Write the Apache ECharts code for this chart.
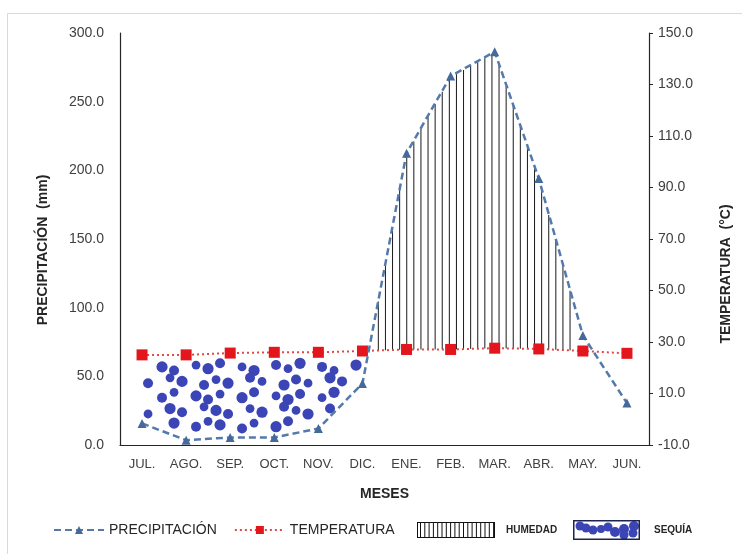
<!DOCTYPE html>
<html><head><meta charset="utf-8">
<script src="https://cdn.jsdelivr.net/npm/echarts@6/dist/echarts.min.js"></script>
<style>html,body{margin:0;padding:0;background:#fff}#c{width:742px;height:554px}</style>
</head><body><div id="c"></div>
<script>
// ---- data ----
const months = ['JUL.','AGO.','SEP.','OCT.','NOV.','DIC.','ENE.','FEB.','MAR.','ABR.','MAY.','JUN.'];
const precipitation = [15.7, 3.5, 5.5, 5.5, 12, 44.8, 212.5, 268.6, 286.4, 194, 79.8, 30.5];
const temperature = [25.0, 25.0, 25.7, 26.0, 26.0, 26.5, 27.1, 27.1, 27.6, 27.3, 26.5, 25.6];
const precipAxis = {min: 0, max: 300, interval: 50};
const tempAxis = {min: -10, max: 150, interval: 20};

const FONT = '"Liberation Sans", Arial, sans-serif';
const PCOL = '#5479ab';
const TCOL = '#e3161d';
const DOT = '#3b45b6';

function toLeft(t){
  return (t - tempAxis.min) / (tempAxis.max - tempAxis.min) * (precipAxis.max - precipAxis.min) + precipAxis.min;
}
function yAt(pts, x){
  for (let i = 0; i < pts.length - 1; i++){
    const a = pts[i], b = pts[i+1];
    if (x >= a[0] && x <= b[0]){
      const t = (x - a[0]) / (b[0] - a[0]);
      return a[1] + t * (b[1] - a[1]);
    }
  }
  return null;
}

function hatchIcon(){
  const c = document.createElement('canvas'); c.width = 78; c.height = 16;
  const g = c.getContext('2d');
  g.fillStyle = '#fff'; g.fillRect(0,0,78,16);
  g.strokeStyle = '#111'; g.lineWidth = 1;
  g.strokeRect(0.5,0.5,77,15);
  for (let x = 3.5; x < 77; x += 4.3){ g.beginPath(); g.moveTo(x,1); g.lineTo(x,15); g.stroke(); }
  return 'image://' + c.toDataURL();
}
function dotIcon(){
  const c = document.createElement('canvas'); c.width = 67; c.height = 20;
  const g = c.getContext('2d');
  g.fillStyle = '#fff'; g.fillRect(0,0,67,20);
  g.fillStyle = DOT;
  const blobs = [[7,6,4.5],[13,8,4.5],[20,10,4.5],[28,9,4],[35,7,4.5],[42,12,5],[51,9,5],[51,15,4.5],[61,6,5],[60,13,4.5]];
  blobs.forEach(b => { g.beginPath(); g.arc(b[0], b[1], b[2], 0, Math.PI*2); g.fill(); });
  g.strokeStyle = '#1c2450'; g.lineWidth = 1.5;
  g.strokeRect(0.75,0.75,65.5,18.5);
  return 'image://' + c.toDataURL();
}

function renderHumedad(params, api){
  if (params.dataIndex !== 0) return null;
  const P = precipitation.map((v,i) => api.coord([i, v]));
  const T = temperature.map((v,i) => api.coord([i, toLeft(v)]));
  const children = [];
  for (let x = P[0][0] + 2; x <= P[P.length-1][0]; x += 7.1){
    const yp = yAt(P, x), yt = yAt(T, x);
    if (yp === null || yt === null) continue;
    if (yt - yp >= 45){
      children.push({type:'line', shape:{x1:x, y1:yt, x2:x, y2:yp + 1}, style:{stroke:'#1a1a1a', lineWidth:1}});
    }
  }
  return {type:'group', children};
}

function renderSequia(params, api){
  if (params.dataIndex !== 0) return null;
  const P = precipitation.map((v,i) => api.coord([i, v]));
  const T = temperature.map((v,i) => api.coord([i, toLeft(v)]));
  const bottom = api.coord([0, precipAxis.min])[1];
  const children = [];
  const y0 = T[0][1] + 12;
  for (let r = 0; r < 6; r++){
    for (let c = 0; c < 18; c++){
      const jx = (((r*5 + c*3) % 5) - 2) * 2.0;
      const jy = (((r*3 + c*7) % 5) - 2) * 1.8;
      const x = P[0][0] + 2 + c*16 + (r % 2 ? 8 : 0) + jx;
      const y = y0 + r*14.5 + jy;
      const yp = yAt(P, x), yt = yAt(T, x);
      if (yp === null || yt === null) continue;
      if (yp <= yt) continue;
      if (y < yt + 8 || y > yp - 8 || y > bottom - 10) continue;
      const rad = 4.4 + ((r + c*2) % 3) * 0.6;
      children.push({type:'circle', shape:{cx:x, cy:y, r:rad}, style:{fill:DOT}});
    }
  }
  return {type:'group', children};
}

const chart = echarts.init(document.getElementById('c'));
const axisLbl = {fontFamily: FONT, fontSize: 13, color: '#404040'};
chart.setOption({
  animation: false,
  backgroundColor: '#fff',
  textStyle: {fontFamily: FONT},
  graphic: [{type:'rect', shape:{x:7.5, y:13.5, width:800, height:800}, style:{fill:'none', stroke:'#d9d9d9', lineWidth:1}, z:-1}],
  grid: {left: 120, right: 93, top: 33, bottom: 109},
  xAxis: {
    type: 'category', data: months, boundaryGap: true,
    axisLine: {lineStyle: {color: '#262626', width: 1.2}},
    axisTick: {show: false},
    axisLabel: Object.assign({margin: 13, interval: 0}, axisLbl),
    name: 'MESES', nameLocation: 'middle', nameGap: 42,
    nameTextStyle: {fontFamily: FONT, fontSize: 14, fontWeight: 'bold', color: '#262626'}
  },
  yAxis: [{
    type: 'value', min: precipAxis.min, max: precipAxis.max, interval: precipAxis.interval,
    axisLine: {show: true, lineStyle: {color: '#262626', width: 1.2}},
    axisTick: {show: false}, splitLine: {show: false},
    axisLabel: Object.assign({margin: 16, formatter: v => v.toFixed(1)}, axisLbl, {fontSize: 14}),
    name: 'PRECIPITACIÓN  (mm)', nameLocation: 'middle', nameGap: 70, nameRotate: 90,
    nameTextStyle: {fontFamily: FONT, fontSize: 14, fontWeight: 'bold', color: '#262626', padding: [0, 22, 0, 0]}
  }, {
    type: 'value', position: 'right', min: tempAxis.min, max: tempAxis.max, interval: tempAxis.interval,
    axisLine: {show: true, lineStyle: {color: '#262626', width: 1.2}},
    axisTick: {show: true, length: 4, lineStyle: {color: '#262626'}}, splitLine: {show: false},
    axisLabel: Object.assign({margin: 9, formatter: v => v.toFixed(1)}, axisLbl, {fontSize: 14}),
    name: 'TEMPERATURA  (°C)', nameLocation: 'middle', nameGap: 70, nameRotate: 90,
    nameTextStyle: {fontFamily: FONT, fontSize: 14, fontWeight: 'bold', color: '#262626', padding: [0, 70, 0, 0]}
  }],
  legend: [{
    left: 53, top: 523, padding: 0, selectedMode: false, itemWidth: 50, itemHeight: 10, itemGap: 17,
    textStyle: {fontFamily: FONT, fontSize: 14, color: '#262626'},
    data: [{name: 'PRECIPITACIÓN'}, {name: 'TEMPERATURA'}]
  }, {
    left: 417, top: 522, padding: 0, selectedMode: false, itemWidth: 78, itemHeight: 16,
    textStyle: {fontFamily: FONT, fontSize: 10, fontWeight: 'bold', color: '#262626', padding: [0,0,0,6]},
    data: [{name: 'HUMEDAD', icon: hatchIcon()}]
  }, {
    left: 573, top: 520, padding: 0, selectedMode: false, itemWidth: 67, itemHeight: 20,
    textStyle: {fontFamily: FONT, fontSize: 10, fontWeight: 'bold', color: '#262626', padding: [0,0,0,9]},
    data: [{name: 'SEQUÍA', icon: dotIcon()}]
  }],
  series: [{
    name: 'HUMEDAD', type: 'custom', xAxisIndex: 0, yAxisIndex: 0, z: 1,
    renderItem: renderHumedad, data: [[0, 0]], itemStyle: {color: '#111'}
  }, {
    name: 'SEQUÍA', type: 'custom', xAxisIndex: 0, yAxisIndex: 0, z: 1,
    renderItem: renderSequia, data: [[0, 0]], itemStyle: {color: DOT}
  }, {
    name: 'PRECIPITACIÓN', type: 'line', yAxisIndex: 0, data: precipitation, z: 4,
    symbol: 'triangle', symbolSize: 9,
    lineStyle: {color: PCOL, width: 2.5, type: [7, 4]},
    itemStyle: {color: '#45699a'}
  }, {
    name: 'TEMPERATURA', type: 'line', yAxisIndex: 1, data: temperature, z: 3,
    symbol: 'rect', symbolSize: 11,
    lineStyle: {color: '#e04848', width: 2, type: [2, 3]},
    itemStyle: {color: TCOL}
  }]
});
</script></body></html>
